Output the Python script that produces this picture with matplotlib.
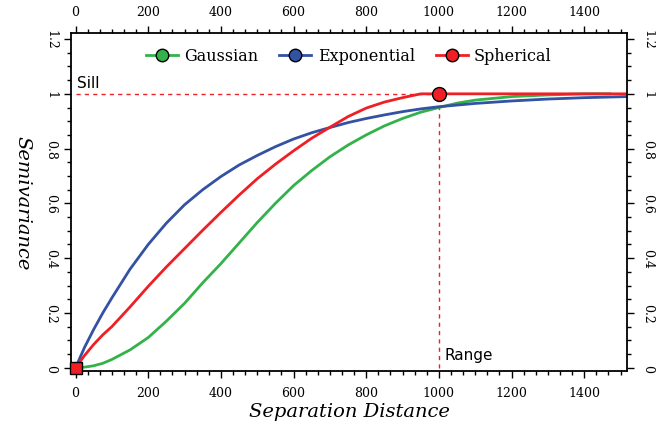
import matplotlib
matplotlib.use("Agg")
import matplotlib.pyplot as plt
from matplotlib.lines import Line2D
from matplotlib.ticker import MultipleLocator

# values
dist = [0, 25, 50, 75, 100, 150, 200, 250, 300, 350, 400, 450, 500, 550, 600,
        650, 700, 750, 800, 850, 900, 950, 1000]

gauss_x = dist + [1050, 1100, 1200, 1300, 1400, 1470]
gauss_y = [0, 0.002, 0.007, 0.016, 0.03, 0.065, 0.11, 0.17, 0.235, 0.31, 0.38,
           0.455, 0.53, 0.60, 0.665, 0.72, 0.77, 0.813, 0.85, 0.883, 0.91,
           0.933, 0.95, 0.966, 0.977, 0.99, 0.996, 1.0, 1.0]

expo_x = dist + [1100, 1200, 1300, 1400, 1520]
expo_y = [0, 0.075, 0.14, 0.2, 0.255, 0.36, 0.45, 0.528, 0.595, 0.65, 0.698,
          0.74, 0.775, 0.807, 0.835, 0.858, 0.877, 0.895, 0.91, 0.923, 0.935,
          0.945, 0.953, 0.965, 0.974, 0.981, 0.986, 0.99]

sph_x = dist + [1520]
sph_y = [0, 0.045, 0.085, 0.12, 0.15, 0.222, 0.297, 0.368, 0.435, 0.502, 0.567,
         0.63, 0.69, 0.743, 0.792, 0.838, 0.878, 0.917, 0.948, 0.97, 0.986,
         1.0, 1.0, 1.0]

sill = 1.0
rng = 1000

green = "#33b24a"
blue = "#3352a3"
red = "#ee1f25"

fig = plt.figure(figsize=(6.56, 4.31), dpi=100)
ax = fig.add_axes([0.108, 0.137, 0.848, 0.784])

ax.plot([0, rng], [sill, sill], color=red, lw=1, ls=(0, (3, 3)), zorder=1)
ax.plot([rng, rng], [0, sill], color=red, lw=1, ls=(0, (3, 3)), zorder=1)

ax.plot(gauss_x, gauss_y, color=green, lw=2)
ax.plot(expo_x, expo_y, color=blue, lw=2)
ax.plot(sph_x, sph_y, color=red, lw=2)

ax.plot([rng], [sill], marker="o", color=red, mec="black", ms=10, zorder=5)
ax.plot([0], [0], marker="s", color=red, mec="black", ms=9, zorder=5, clip_on=False)

ax.set_xlim(-13, 1518)
ax.set_ylim(-0.012, 1.222)

ax.xaxis.set_major_locator(MultipleLocator(200))
ax.xaxis.set_minor_locator(MultipleLocator(200 / 6))
ax.yaxis.set_minor_locator(MultipleLocator(0.05))
ax.set_yticks([0, 0.2, 0.4, 0.6, 0.8, 1.0, 1.2])
ax.set_yticklabels(["0", "0.2", "0.4", "0.6", "0.8", "1", "1.2"])

ax.tick_params(which="both", direction="out", top=True, right=True,
               labeltop=True, labelright=True, width=1, colors="black")
ax.tick_params(which="major", length=5)
ax.tick_params(which="minor", length=3)
ax.xaxis.set_tick_params(pad=6)
ax.yaxis.set_tick_params(labelrotation=270, pad=5)
for lab in ax.get_xticklabels() + ax.get_yticklabels():
    lab.set_family("DejaVu Serif")
    lab.set_fontsize(9)
for lab in ax.get_yticklabels():
    lab.set_va("center")

for sp in ax.spines.values():
    sp.set_linewidth(1.3)

ax.set_xlabel("Separation Distance", family="DejaVu Serif", style="italic",
              fontsize=14, labelpad=2)
ax.set_ylabel("Semivariance", family="DejaVu Serif", style="italic",
              fontsize=14, rotation=270, labelpad=22)

ax.text(5, 1.015, "Sill", fontsize=11, family="DejaVu Sans", va="bottom")
ax.text(1015, 0.02, "Range", fontsize=11, family="DejaVu Sans", va="bottom")

handles = [
    Line2D([], [], color=green, lw=2, marker="o", mfc=green, mec="black", ms=9),
    Line2D([], [], color=blue, lw=2, marker="o", mfc=blue, mec="black", ms=9),
    Line2D([], [], color=red, lw=2, marker="o", mfc=red, mec="black", ms=9),
]
ax.legend(handles, ["Gaussian", "Exponential", "Spherical"], loc="upper center",
          bbox_to_anchor=(0.5, 1.0), ncol=3, frameon=False, numpoints=1,
          prop={"family": "DejaVu Serif", "size": 11.5}, handlelength=2.0,
          handletextpad=0.4, columnspacing=1.3)

fig.savefig("out.png", dpi=100)
